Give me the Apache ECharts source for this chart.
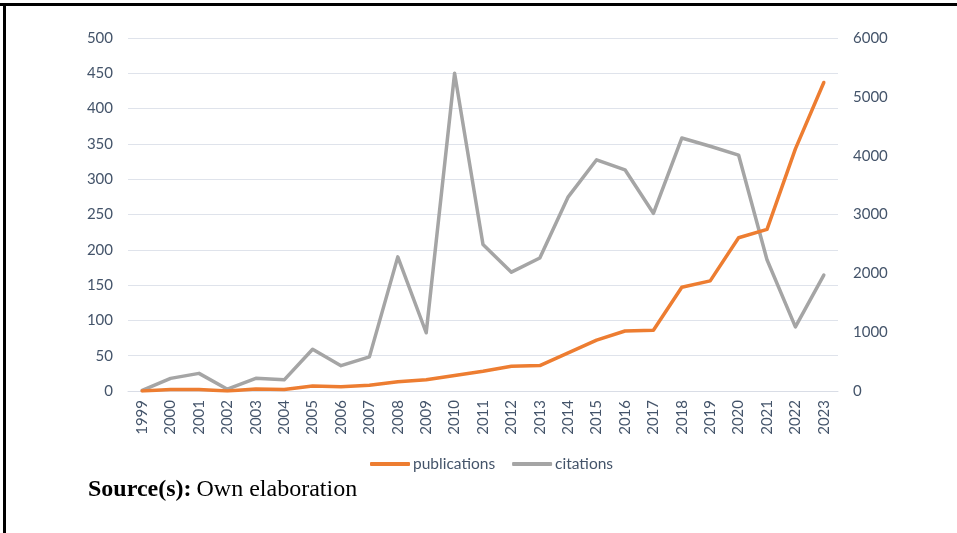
<!DOCTYPE html>
<html>
<head>
<meta charset="utf-8">
<script src="https://cdn.jsdelivr.net/npm/echarts@6/dist/echarts.min.js"></script>
<style>
  html, body { margin: 0; padding: 0; background: #fff; }
  #main { width: 957px; height: 533px; }
</style>
</head>
<body>
<div id="main"></div>
<script>
// data
var years = ['1999','2000','2001','2002','2003','2004','2005','2006','2007','2008','2009','2010',
  '2011','2012','2013','2014','2015','2016','2017','2018','2019','2020','2021','2022','2023'];
var publications = [0, 2, 2, 0, 3, 2, 7, 6, 8, 13, 16, 22, 28, 35, 36, 54, 72, 85, 86, 147, 156, 217, 229, 343, 437];
var citations = [10, 215, 300, 30, 215, 190, 710, 430, 580, 2280, 990, 5400, 2490, 2020, 2260, 3300, 3930, 3760, 3020, 4300, 4160, 4010, 2230, 1090, 1970];
var leftTicks = [0, 500, 50];     // min, max, step
var rightTicks = [0, 6000, 1000];

var textColor = '#44546a';
var labelFont = 'Lato, "Open Sans", sans-serif';

var myChart = echarts.init(document.getElementById('main'));

var option = {
  backgroundColor: '#fff',
  animation: false,
  title: {
    left: 88,
    top: 478,
    padding: 0,
    text: '{b|Source(s):} {n|Own elaboration}',
    textStyle: {
      rich: {
        b: { fontFamily: '"Liberation Serif", serif', fontWeight: 'bold', fontSize: 24, color: '#000' },
        n: { fontFamily: '"Liberation Serif", serif', fontWeight: 'normal', fontSize: 24, color: '#000' }
      }
    }
  },
  legend: {
    top: 451,
    left: 365,
    itemWidth: 40,
    itemHeight: 4,
    itemGap: 17,
    icon: 'roundRect',
    textStyle: { color: textColor, fontSize: 15.5, fontFamily: labelFont, padding: [0, 0, 0, -2] },
    data: ['publications', 'citations']
  },
  grid: { left: 128, right: 119, top: 38, bottom: 142, containLabel: false },
  xAxis: {
    type: 'category',
    data: years,
    boundaryGap: true,
    axisLine: { lineStyle: { color: '#d9dde6', width: 1 } },
    axisTick: { show: false },
    axisLabel: { rotate: 90, color: textColor, fontSize: 15, fontFamily: labelFont, margin: 9, interval: 0 }
  },
  yAxis: [{
    type: 'value',
    min: leftTicks[0], max: leftTicks[1], interval: leftTicks[2],
    axisLine: { show: false },
    axisTick: { show: false },
    splitLine: { lineStyle: { color: '#dfe3eb', width: 1 } },
    axisLabel: { color: textColor, fontSize: 15, fontFamily: labelFont, margin: 15 }
  }, {
    type: 'value',
    min: rightTicks[0], max: rightTicks[1], interval: rightTicks[2],
    axisLine: { show: false },
    axisTick: { show: false },
    splitLine: { show: false },
    axisLabel: { color: textColor, fontSize: 15, fontFamily: labelFont, margin: 15,
      formatter: function (v) { return String(v); } }
  }],
  series: [{
    name: 'publications',
    type: 'line',
    yAxisIndex: 0,
    data: publications,
    symbol: 'none',
    color: '#ed7d31',
    lineStyle: { width: 3.5, cap: 'round', join: 'round' },
    z: 3
  }, {
    name: 'citations',
    type: 'line',
    yAxisIndex: 1,
    data: citations,
    symbol: 'none',
    color: '#a5a5a5',
    lineStyle: { width: 3.5, cap: 'round', join: 'round' },
    z: 2
  }],
  graphic: [
    { type: 'rect', shape: { x: 0, y: 3, width: 957, height: 3 }, style: { fill: '#000' } },
    { type: 'rect', shape: { x: 3, y: 3, width: 3, height: 530 }, style: { fill: '#000' } }
  ]
};

myChart.setOption(option);
</script>
</body>
</html>
